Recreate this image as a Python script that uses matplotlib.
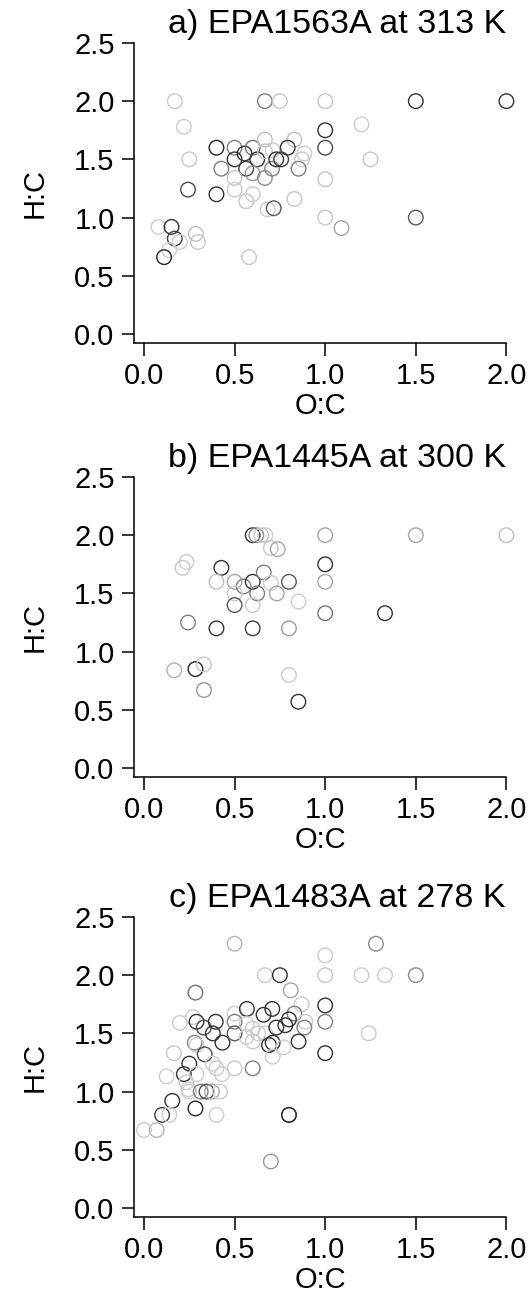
import matplotlib
matplotlib.use('Agg')
import matplotlib.pyplot as plt

plt.rcParams['font.family'] = ['Liberation Sans', 'DejaVu Sans']

# panel a) EPA1563A at 313 K  (shade: 0 = black, 1 = white)
a_oc = [0.17, 0.22, 0.25, 0.243, 0.40, 0.427, 0.40, 0.50, 0.50, 0.555, 0.60, 0.625,
        0.564, 0.60, 0.50, 0.50, 0.564, 0.60, 0.667, 0.667, 0.667, 0.71, 0.707, 0.73,
        0.683, 0.716, 0.667, 0.75, 0.08, 0.152, 0.17, 0.198, 0.286, 0.298, 0.139, 0.111,
        0.58, 1.0, 1.5, 2.0, 1.2, 1.0, 1.0, 1.25, 1.0, 0.83, 0.793, 0.757, 0.885, 0.872,
        0.853, 0.83, 1.0, 1.09, 1.5]
a_hc = [2.0, 1.78, 1.5, 1.24, 1.6, 1.42, 1.2, 1.6, 1.5, 1.55, 1.6, 1.5,
        1.42, 1.38, 1.34, 1.24, 1.14, 1.2, 1.67, 1.57, 1.34, 1.58, 1.42, 1.5,
        1.07, 1.08, 2.0, 2.0, 0.92, 0.92, 0.82, 0.79, 0.86, 0.79, 0.72, 0.66,
        0.66, 2.0, 2.0, 2.0, 1.8, 1.75, 1.6, 1.5, 1.33, 1.67, 1.6, 1.5, 1.55, 1.5,
        1.42, 1.16, 1.0, 0.91, 1.0]
a_shade = [0.78, 0.8, 0.78, 0.3, 0.15, 0.5, 0.2, 0.5, 0.2, 0.2, 0.45, 0.2,
           0.25, 0.6, 0.78, 0.8, 0.78, 0.8, 0.75, 0.78, 0.55, 0.8, 0.5, 0.2,
           0.8, 0.35, 0.5, 0.78, 0.8, 0.2, 0.25, 0.8, 0.75, 0.78, 0.8, 0.15,
           0.78, 0.78, 0.2, 0.2, 0.8, 0.2, 0.3, 0.78, 0.78, 0.75, 0.2, 0.25, 0.8, 0.78,
           0.5, 0.78, 0.78, 0.65, 0.35]

# panel b) EPA1445A at 300 K
b_oc = [0.6, 0.62, 0.647, 0.67, 0.70, 0.738, 0.235, 0.213, 0.427, 0.40, 0.50, 0.55,
        0.60, 0.661, 0.70, 0.733, 0.50, 0.625, 0.50, 0.60, 0.243, 0.40, 0.60, 0.167,
        0.284, 0.331, 0.331, 1.0, 1.5, 2.0, 1.0, 0.80, 1.0, 0.853, 1.0, 1.33, 0.80,
        0.80, 0.852]
b_hc = [2.0, 2.0, 2.0, 2.0, 1.89, 1.88, 1.77, 1.72, 1.72, 1.6, 1.6, 1.56,
        1.6, 1.68, 1.59, 1.5, 1.5, 1.5, 1.4, 1.4, 1.25, 1.2, 1.2, 0.84,
        0.85, 0.89, 0.67, 2.0, 2.0, 2.0, 1.75, 1.6, 1.6, 1.43, 1.33, 1.33, 1.2,
        0.8, 0.57]
b_shade = [0.2, 0.55, 0.78, 0.8, 0.78, 0.65, 0.8, 0.78, 0.2, 0.75, 0.65, 0.5,
           0.2, 0.5, 0.8, 0.65, 0.8, 0.5, 0.35, 0.8, 0.5, 0.2, 0.25, 0.7,
           0.15, 0.78, 0.6, 0.65, 0.65, 0.75, 0.2, 0.35, 0.65, 0.8, 0.45, 0.2, 0.6,
           0.8, 0.2]

# panel c) EPA1483A at 278 K
c_oc = [0.5, 0.667, 0.75, 0.284, 0.198, 0.27, 0.29, 0.33, 0.396, 0.38, 0.433, 0.5,
        0.5, 0.5, 0.568, 0.66, 0.708, 0.566, 0.6, 0.63, 0.566, 0.6, 0.67, 0.69,
        0.71, 0.73, 0.28, 0.29, 0.335, 0.38, 0.40, 0.43, 0.5, 0.6, 0.71, 0.25,
        0.22, 0.165, 0.125, 0.235, 0.29, 0.245, 0.25, 0.313, 0.345, 0.375, 0.42, 0.284,
        0.40, 0.156, 0.1, 0.14, 0.07, 0.0, 1.28, 1.0, 1.0, 1.2, 1.33, 1.5,
        0.81, 0.87, 1.0, 1.0, 0.83, 0.80, 0.78, 0.89, 0.885, 0.853, 0.77, 1.0,
        1.24, 0.80, 0.70, 0.80]
c_hc = [2.27, 2.0, 2.0, 1.85, 1.59, 1.64, 1.6, 1.55, 1.6, 1.5, 1.42, 1.67,
        1.6, 1.5, 1.71, 1.66, 1.71, 1.58, 1.54, 1.5, 1.47, 1.43, 1.5, 1.4,
        1.42, 1.55, 1.42, 1.4, 1.32, 1.24, 1.2, 1.15, 1.2, 1.2, 1.3, 1.24,
        1.15, 1.33, 1.13, 1.08, 1.15, 1.02, 1.0, 1.0, 1.0, 1.0, 1.0, 0.855,
        0.8, 0.92, 0.8, 0.8, 0.67, 0.67, 2.27, 2.17, 2.0, 2.0, 2.0, 2.0,
        1.87, 1.75, 1.74, 1.6, 1.67, 1.62, 1.57, 1.6, 1.55, 1.43, 1.38, 1.33,
        1.5, 0.8, 0.4, 0.8]
c_shade = [0.7, 0.8, 0.2, 0.45, 0.8, 0.8, 0.2, 0.3, 0.2, 0.2, 0.2, 0.8,
           0.5, 0.35, 0.2, 0.2, 0.2, 0.8, 0.8, 0.8, 0.8, 0.8, 0.8, 0.2,
           0.2, 0.2, 0.5, 0.8, 0.3, 0.8, 0.8, 0.8, 0.78, 0.5, 0.8, 0.2,
           0.2, 0.78, 0.8, 0.8, 0.8, 0.8, 0.8, 0.5, 0.3, 0.65, 0.8, 0.15,
           0.8, 0.2, 0.25, 0.8, 0.7, 0.8, 0.55, 0.8, 0.78, 0.8, 0.8, 0.55,
           0.65, 0.8, 0.2, 0.5, 0.5, 0.2, 0.2, 0.8, 0.5, 0.2, 0.8, 0.2,
           0.8, 0.2, 0.6, 0.2]

titles = ['a) EPA1563A at 313 K', 'b) EPA1445A at 300 K', 'c) EPA1483A at 278 K']
panels = [(a_oc, a_hc, a_shade), (b_oc, b_hc, b_shade), (c_oc, c_hc, c_shade)]
bottoms = [0.738, 0.4064, 0.0703]

fig = plt.figure(figsize=(5.32, 13.09), dpi=100)

for (oc, hc, shade), title, bot in zip(panels, titles, bottoms):
    ax = fig.add_axes([0.2519, bot, 0.7, 0.2292])
    ax.scatter(oc, hc, s=110, facecolors='none',
               edgecolors=plt.cm.gray(shade), linewidths=1.0, clip_on=False)
    ax.set_xlim(-0.055, 2.0)
    ax.set_ylim(-0.077, 2.5)
    ax.set_xticks([0.0, 0.5, 1.0, 1.5, 2.0])
    ax.set_yticks([0.0, 0.5, 1.0, 1.5, 2.0, 2.5])
    ax.set_xticklabels(['0.0', '0.5', '1.0', '1.5', '2.0'])
    ax.set_yticklabels(['0.0', '0.5', '1.0', '1.5', '2.0', '2.5'])
    for side in ['top', 'right']:
        ax.spines[side].set_visible(False)
    for side in ['left', 'bottom']:
        ax.spines[side].set_linewidth(1.1)
    ax.tick_params(direction='out', length=9, width=1.1, labelsize=21, pad=5)
    ax.set_xlabel('O:C', fontsize=21, labelpad=1)
    ax.set_ylabel('H:C', fontsize=21, labelpad=18)
    ax.text(0.545, 1.06, title, transform=ax.transAxes, ha='center', va='center',
            fontsize=24.5)

fig.savefig('out.png', dpi=100)
